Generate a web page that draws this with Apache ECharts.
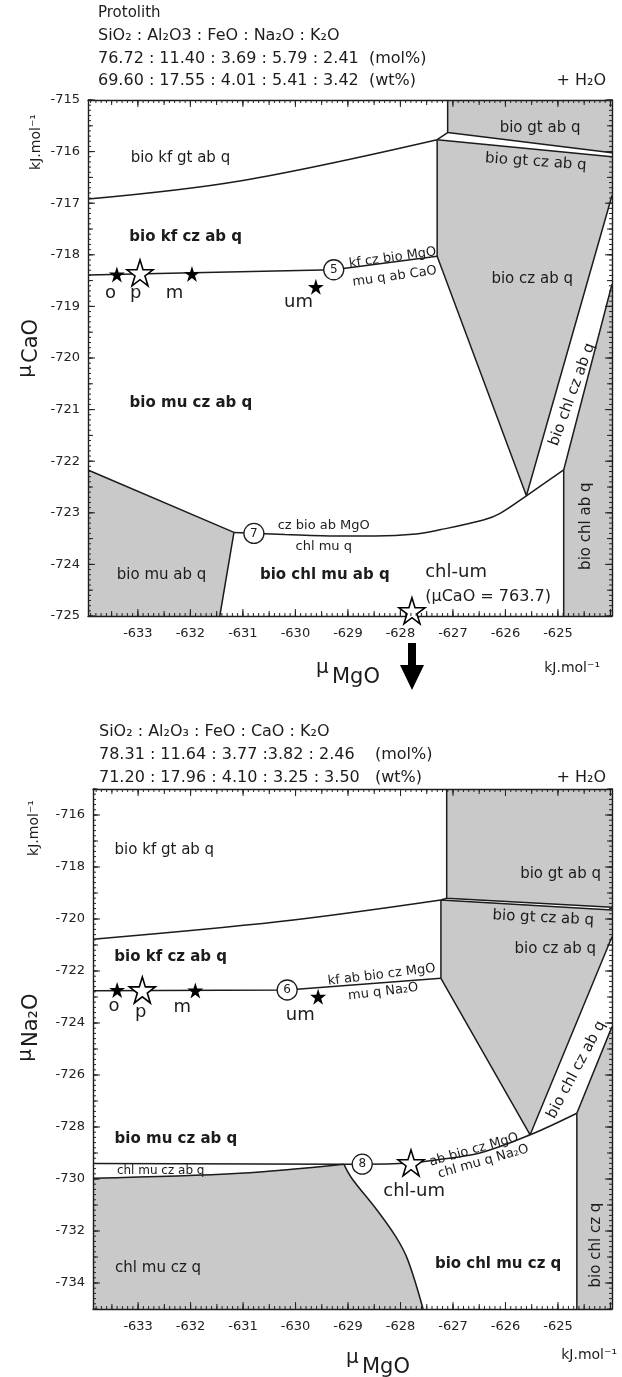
<!DOCTYPE html>
<html><head><meta charset="utf-8">
<script src="https://cdn.jsdelivr.net/npm/echarts@6/dist/echarts.min.js"></script>
<style>html,body{margin:0;padding:0;background:#fff}#c{width:622px;height:1377px}</style>
</head><body><div id="c"></div>
<script>
const FONT = '"DejaVu Sans", Verdana, sans-serif';
const INK = '#1c1c1c';
const GREY = '#c9c9c9';

// ---------- tick labels ----------
const xTickLabels = [-633, -632, -631, -630, -629, -628, -627, -626, -625];
const yTickLabelsTop = [-715, -716, -717, -718, -719, -720, -721, -722, -723, -724, -725];
const yTickLabelsBottom = [-716, -718, -720, -722, -724, -726, -728, -730, -732, -734];

// ---------- top diagram: muCaO vs muMgO ----------
const caoFields = [
  [[-627.1, -715], [-623.97, -715], [-623.97, -716.02], [-627.1, -715.63]],
  [[-627.3, -715.77], [-623.97, -716.1], [-623.97, -716.85], [-625.6, -722.67], [-627.3, -718.03]],
  [[-624.89, -722.17], [-623.97, -718.57], [-623.97, -725], [-624.89, -725]],
  [[-633.95, -722.17], [-631.17, -723.38], [-631.44, -725], [-633.95, -725]]
];
const caoStraight = [
  [[-627.1, -715], [-627.1, -715.63], [-623.97, -716.02]],
  [[-627.3, -715.77], [-627.1, -715.63]],
  [[-627.3, -715.77], [-623.97, -716.1]],
  [[-627.3, -715.77], [-627.3, -718.03], [-625.6, -722.67], [-623.97, -716.85]],
  [[-633.95, -718.39], [-629.27, -718.29], [-627.3, -718.03]],
  [[-633.95, -722.17], [-631.17, -723.38], [-631.44, -725]],
  [[-624.89, -725], [-624.89, -722.17], [-623.97, -718.57]]
];
const caoCurves = [
  [[-633.95, -716.92], [-631.06, -716.57], [-627.3, -715.77]],
  [[-631.17, -723.38], [-630.2, -723.42], [-629.2, -723.45], [-628.47, -723.45], [-627.7, -723.41],
   [-627.25, -723.33], [-626.42, -723.14], [-626.1, -723.01], [-625.6, -722.67], [-624.89, -722.17]]
];
const caoSolidStars = [[-633.4, -718.38], [-631.97, -718.37], [-629.61, -718.62]];
const caoOpenStars = [[-632.96, -718.35], [-627.78, -724.9]];
const caoNodes = [[-629.27, -718.29, '5'], [-630.79, -723.40, '7']];
const caoLabels = [
  ['bio kf gt ab q', -632.19, -716.12, 0, 'n'],
  ['bio kf cz ab q', -632.09, -717.65, 0, 'b'],
  ['kf cz bio MgO', -628.15, -718.06, 8, 's'],
  ['mu q ab CaO', -628.11, -718.42, 8, 's'],
  ['o', -633.52, -718.74, 0, 'l'],
  ['p', -633.04, -718.74, 0, 'l'],
  ['m', -632.30, -718.74, 0, 'l'],
  ['um', -629.94, -718.93, 0, 'l'],
  ['bio gt ab q', -625.34, -715.54, 0, 'n'],
  ['bio gt cz ab q', -625.42, -716.2, -4, 'n'],
  ['bio cz ab q', -625.49, -718.48, 0, 'n'],
  ['bio chl cz ab q', -624.73, -720.71, 70, 'n'],
  ['bio chl ab q', -624.46, -723.26, 90, 'n'],
  ['bio mu cz ab q', -631.99, -720.88, 0, 'b'],
  ['bio mu ab q', -632.55, -724.21, 0, 'n'],
  ['cz bio ab MgO', -629.46, -723.24, 0, 's'],
  ['chl mu q', -629.46, -723.65, 0, 's'],
  ['bio chl mu ab q', -629.44, -724.21, 0, 'b'],
  ['chl-um', -626.94, -724.15, 0, 'l'],
  ['(\u03bcCaO = 763.7)', -626.33, -724.63, 0, 'm']
];

// ---------- bottom diagram: muNa2O vs muMgO ----------
const naFields = [
  [[-627.12, -715], [-623.97, -715], [-623.97, -719.55], [-627.12, -719.2]],
  [[-627.23, -719.27], [-623.97, -719.65], [-623.97, -720.68], [-625.53, -728.3], [-627.23, -722.28]],
  [[-624.64, -727.47], [-623.97, -724.14], [-623.97, -735], [-624.64, -735]],
  [[-633.86, -729.97], [-631.06, -729.78], [-629.08, -729.43], [-628.93, -729.97], [-628.45, -731.19],
   [-628.09, -732.22], [-627.86, -733.12], [-627.57, -735], [-633.86, -735]]
];
const naStraight = [
  [[-627.12, -715], [-627.12, -719.2], [-623.97, -719.55]],
  [[-627.23, -719.27], [-627.12, -719.2]],
  [[-627.23, -719.27], [-623.97, -719.65]],
  [[-627.23, -719.27], [-627.23, -722.28], [-625.53, -728.3], [-623.97, -720.68]],
  [[-633.86, -722.76], [-630.16, -722.73], [-627.23, -722.28]],
  [[-624.64, -735], [-624.64, -727.47], [-623.97, -724.14]],
  [[-633.86, -729.4], [-629.08, -729.43]]
];
const naCurves = [
  [[-633.86, -720.78], [-630.3, -720.1], [-627.23, -719.27]],
  [[-633.86, -729.97], [-631.06, -729.78], [-629.08, -729.43]],
  [[-629.08, -729.43], [-628.93, -729.97], [-628.45, -731.19], [-628.09, -732.22], [-627.86, -733.12], [-627.57, -735]],
  [[-629.08, -729.43], [-628.73, -729.43], [-627.8, -729.38], [-627.38, -729.28], [-626.49, -729.0],
   [-625.53, -728.3], [-624.64, -727.47]]
];
const naSolidStars = [[-633.4, -722.73], [-631.91, -722.75], [-629.57, -722.99]];
const naOpenStars = [[-632.92, -722.73], [-627.8, -729.38]];
const naNodes = [[-630.16, -722.73, '6'], [-628.73, -729.43, '8']];
const naLabels = [
  ['bio kf gt ab q', -632.5, -717.35, 0, 'n'],
  ['bio gt ab q', -624.95, -718.27, 0, 'n'],
  ['bio gt cz ab q', -625.28, -719.96, -3, 'n'],
  ['bio cz ab q', -625.05, -721.15, 0, 'n'],
  ['bio kf cz ab q', -632.38, -721.45, 0, 'b'],
  ['kf ab bio cz MgO', -628.36, -722.15, 7, 's'],
  ['mu q Na\u2082O', -628.33, -722.8, 7, 's'],
  ['o', -633.46, -723.37, 0, 'l'],
  ['p', -632.95, -723.58, 0, 'l'],
  ['m', -632.16, -723.4, 0, 'l'],
  ['um', -629.91, -723.69, 0, 'l'],
  ['bio chl cz ab q', -624.65, -725.8, 62, 'n'],
  ['bio mu cz ab q', -632.28, -728.47, 0, 'b'],
  ['chl mu cz ab q', -632.57, -729.69, 0, 't'],
  ['ab bio cz MgO', -626.6, -728.88, 16, 's'],
  ['chl mu q Na\u2082O', -626.42, -729.33, 16, 's'],
  ['chl-um', -627.74, -730.49, 0, 'l'],
  ['chl mu cz q', -632.62, -733.43, 0, 'n'],
  ['bio chl mu cz q', -626.14, -733.27, 0, 'b'],
  ['bio chl cz q', -624.28, -732.54, 90, 'n']
];

// ---------- helpers ----------
const TOPX = [-633.95, -623.97], TOPY = [-725, -715];
const BOTX = [-633.86, -623.97], BOTY = [-735, -715];

function steps(lo, hi, step) {
  const out = [];
  const a = Math.ceil(lo / step - 1e-6), b = Math.floor(hi / step + 1e-6);
  for (let k = a; k <= b; k++) out.push(+(k * step).toFixed(4));
  return out;
}
const STYLE = {
  n: { fontSize: 15, fontWeight: 'normal' },
  b: { fontSize: 15, fontWeight: 'bold' },
  s: { fontSize: 13, fontWeight: 'normal' },
  t: { fontSize: 12, fontWeight: 'normal' },
  l: { fontSize: 18, fontWeight: 'normal' },
  m: { fontSize: 16, fontWeight: 'normal' }
};

function axisPair(grid, ext, labels, positions, margin) {
  return positions.map((pos, pi) => ({
    type: 'value', gridIndex: grid, position: pos, min: ext[0], max: ext[1],
    axisLine: { show: true, onZero: false, lineStyle: { color: INK, width: 1.4 } },
    axisTick: { show: false },
    axisLabel: { show: pi === 0, customValues: labels, color: '#222', fontFamily: FONT, fontSize: 13, margin: margin },
    splitLine: { show: false }, z: 4
  }));
}
const xAxes = [].concat(axisPair(0, TOPX, xTickLabels, ['bottom', 'top'], 11), axisPair(1, BOTX, xTickLabels, ['bottom', 'top'], 11));
const yAxes = [].concat(axisPair(0, TOPY, yTickLabelsTop, ['left', 'right'], 8), axisPair(1, BOTY, yTickLabelsBottom, ['left', 'right'], 8));

// tick marks drawn on all four frame sides (inward)
function tickData(xExt, yExt, xLevels, yLevels) {
  const d = [];
  xLevels.forEach(([vals, len]) => vals.forEach(v => d.push([v, yExt[0], len, 0])));
  yLevels.forEach(([vals, len]) => vals.forEach(v => d.push([xExt[0], v, len, 1])));
  return d;
}
function tickSeries(xi, yi, xExt, yExt, data) {
  return {
    type: 'custom', xAxisIndex: xi, yAxisIndex: yi, silent: true, z: 8, clip: false,
    data: data,
    renderItem: (params, api) => {
      const v0 = api.value(0), v1 = api.value(1), len = api.value(2), kind = api.value(3);
      const st = { stroke: '#222', lineWidth: 1 };
      if (kind === 0) {
        const a = api.coord([v0, yExt[0]]), b = api.coord([v0, yExt[1]]);
        return { type: 'group', children: [
          { type: 'line', shape: { x1: a[0], y1: a[1], x2: a[0], y2: a[1] - len }, style: st },
          { type: 'line', shape: { x1: b[0], y1: b[1], x2: b[0], y2: b[1] + len }, style: st }] };
      }
      const a = api.coord([xExt[0], v1]), b = api.coord([xExt[1], v1]);
      return { type: 'group', children: [
        { type: 'line', shape: { x1: a[0], y1: a[1], x2: a[0] + len, y2: a[1] }, style: st },
        { type: 'line', shape: { x1: b[0], y1: b[1], x2: b[0] - len, y2: b[1] }, style: st }] };
    }
  };
}

const STAR = 'path://M50,2 L61.2,36.6 L97.6,36.6 L68.2,58 L79.4,92.6 L50,71.2 L20.6,92.6 L31.8,58 L2.4,36.6 L38.8,36.6 Z';

function diagramSeries(xi, yi, fields, straight, curves, solid, open, nodes, labels) {
  const s = [];
  s.push({
    type: 'custom', xAxisIndex: xi, yAxisIndex: yi, silent: true, z: 1,
    data: fields.map((p, i) => [p[0][0], p[0][1], i]),
    renderItem: (params, api) => ({
      type: 'polygon',
      shape: { points: fields[params.dataIndex].map(pt => api.coord(pt)) },
      style: { fill: GREY }
    })
  });
  straight.forEach(d => s.push({ type: 'line', xAxisIndex: xi, yAxisIndex: yi, data: d, symbol: 'none', silent: true, z: 3,
    lineStyle: { color: INK, width: 1.5 } }));
  curves.forEach(d => s.push({ type: 'line', xAxisIndex: xi, yAxisIndex: yi, data: d, symbol: 'none', silent: true, z: 3,
    smooth: 0.35, lineStyle: { color: INK, width: 1.5 } }));
  s.push({ type: 'scatter', xAxisIndex: xi, yAxisIndex: yi, data: solid, symbol: STAR, symbolSize: 16, silent: true, z: 6,
    itemStyle: { color: '#000', opacity: 1 } });
  s.push({ type: 'scatter', xAxisIndex: xi, yAxisIndex: yi, data: open, symbol: STAR, symbolSize: 26, silent: true, z: 6,
    itemStyle: { color: '#fff', borderColor: '#000', borderWidth: 1.6, opacity: 1 } });
  s.push({ type: 'scatter', xAxisIndex: xi, yAxisIndex: yi, silent: true, z: 6,
    data: nodes.map(n => ({ value: [n[0], n[1]], name: n[2] })),
    symbol: 'circle', symbolSize: 20,
    itemStyle: { color: '#fff', borderColor: INK, borderWidth: 1.3, opacity: 1 },
    label: { show: true, position: 'inside', formatter: p => p.name, color: INK, fontFamily: FONT, fontSize: 12 } });
  s.push({ type: 'scatter', xAxisIndex: xi, yAxisIndex: yi, silent: true, z: 7, symbolSize: 0,
    itemStyle: { opacity: 1 },
    data: labels.map(l => ({
      value: [l[1], l[2]], name: l[0],
      label: Object.assign({ show: true, position: 'inside', formatter: l[0], rotate: l[3], color: INK, fontFamily: FONT }, STYLE[l[4]])
    })) });
  return s;
}

const series = [].concat(
  diagramSeries(0, 0, caoFields, caoStraight, caoCurves, caoSolidStars, caoOpenStars, caoNodes, caoLabels),
  diagramSeries(2, 2, naFields, naStraight, naCurves, naSolidStars, naOpenStars, naNodes, naLabels),
  [tickSeries(0, 0, TOPX, TOPY, tickData(TOPX, TOPY,
      [[steps(TOPX[0], TOPX[1], 1), 7], [steps(TOPX[0], TOPX[1], 0.5), 5], [steps(TOPX[0], TOPX[1], 0.1), 3]],
      [[steps(TOPY[0], TOPY[1], 1), 7], [steps(TOPY[0], TOPY[1], 0.5), 5], [steps(TOPY[0], TOPY[1], 0.1), 3]])),
   tickSeries(2, 2, BOTX, BOTY, tickData(BOTX, BOTY,
      [[steps(BOTX[0], BOTX[1], 1), 7], [steps(BOTX[0], BOTX[1], 0.5), 5], [steps(BOTX[0], BOTX[1], 0.1), 3]],
      [[steps(BOTY[0], BOTY[1], 2), 7], [steps(BOTY[0], BOTY[1], 1), 5], [steps(BOTY[0], BOTY[1], 0.2), 3]]))]
);

function txt(text, x, y, size, align, extra) {
  return Object.assign({ type: 'text', x: x, y: y, silent: true,
    style: { text: text, fill: INK, font: size + 'px ' + FONT, align: align || 'left', textAlign: align || 'left',
      verticalAlign: 'middle', textVerticalAlign: 'middle' } }, extra || {});
}
function vtitle(x, y, sub, subX) {
  return { type: 'group', x: x, y: y, rotation: Math.PI / 2, silent: true,
    children: [txt('\u03bc', -subX - 2, -4, 20, 'right'), txt(sub, -subX, 2, 21, 'left')] };
}
function vunit(x, y) {
  return { type: 'group', x: x, y: y, rotation: Math.PI / 2, silent: true,
    children: [txt('kJ.mol\u207b\u00b9', 0, 0, 14, 'center')] };
}

const graphic = [
  txt('Protolith', 98, 13, 15),
  txt('SiO\u2082 : Al\u2082O3 : FeO : Na\u2082O : K\u2082O', 98, 36, 16),
  txt('76.72 : 11.40 : 3.69 : 5.79 : 2.41  (mol%)', 98, 59, 16),
  txt('69.60 : 17.55 : 4.01 : 5.41 : 3.42  (wt%)', 98, 81, 16),
  txt('+ H\u2082O', 606, 81, 16, 'right'),
  vunit(36, 142),
  vtitle(30, 353, 'CaO', 10),
  txt('\u03bc', 316, 668, 20),
  txt('MgO', 332, 678, 21),
  { type: 'polygon', silent: true, shape: { points: [[408, 643], [416, 643], [416, 665], [424, 665], [412, 690], [400, 665], [408, 665]] },
    style: { fill: '#000' } },
  txt('kJ.mol\u207b\u00b9', 600, 668, 14, 'right'),

  txt('SiO\u2082 : Al\u2082O\u2083 : FeO : CaO : K\u2082O', 99, 732, 16),
  txt('78.31 : 11.64 : 3.77 :3.82 : 2.46    (mol%)', 99, 755, 16),
  txt('71.20 : 17.96 : 4.10 : 3.25 : 3.50   (wt%)', 99, 778, 16),
  txt('+ H\u2082O', 606, 778, 16, 'right'),
  vunit(34, 828),
  vtitle(30, 1035, 'Na\u2082O', 12),
  txt('\u03bc', 346, 1358, 20),
  txt('MgO', 362, 1368, 21),
  txt('kJ.mol\u207b\u00b9', 617, 1355, 14, 'right')
];

const chart = echarts.init(document.getElementById('c'), null, { renderer: 'canvas' });
chart.setOption({
  animation: false,
  backgroundColor: '#fff',
  textStyle: { fontFamily: FONT },
  grid: [
    { left: 88, top: 100, width: 524, height: 516, containLabel: false },
    { left: 93, top: 789, width: 519, height: 520, containLabel: false }
  ],
  xAxis: xAxes,
  yAxis: yAxes,
  series: series,
  graphic: graphic
});
</script>
</body></html>
